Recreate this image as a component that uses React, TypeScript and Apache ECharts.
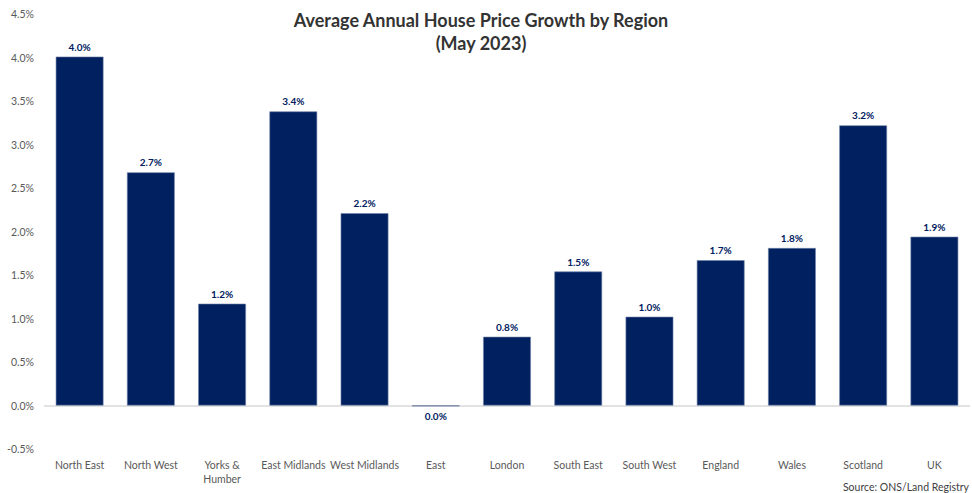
import React, { useEffect, useRef } from "react";
import * as echarts from "echarts";

const categories = [
  "North East", "North West", "Yorks &\nHumber", "East Midlands", "West Midlands", "East",
  "London", "South East", "South West", "England", "Wales", "Scotland", "UK",
];
const growth = [4.01, 2.68, 1.17, 3.38, 2.21, -0.01, 0.79, 1.54, 1.02, 1.67, 1.81, 3.22, 1.94];
const titleLines = ["Average Annual House Price Growth by Region", "(May 2023)"];
const sourceText = "Source: ONS/Land Registry";

const FONT = "Lato, 'Open Sans', sans-serif";
const NAVY = "#002060";

export default function App() {
  const ref = useRef<HTMLDivElement>(null);
  useEffect(() => {
    if (!ref.current) return;
    const chart = echarts.init(ref.current, null, { renderer: "svg" });
    const fmt = (v: number) => (Math.round(v * 10) / 10).toFixed(1) + "%";
    chart.setOption({
      animation: false,
      backgroundColor: "#ffffff",
      textStyle: { fontFamily: FONT },
      grid: { left: 44, right: 2, top: 14, bottom: 44, containLabel: false },
      graphic: [
        {
          type: "text",
          x: 481,
          y: 8,
          style: {
            text: titleLines.join("\n"),
            textAlign: "center",
            textVerticalAlign: "top",
            fontFamily: FONT,
            fontSize: 18,
            fontWeight: "bold",
            lineHeight: 23,
            fill: "#333333",
          },
        },
        {
          type: "text",
          x: 969,
          y: 481,
          style: {
            text: sourceText,
            textAlign: "right",
            textVerticalAlign: "top",
            fontFamily: FONT,
            fontSize: 10.5,
            fill: "#404040",
          },
        },
      ],
      xAxis: {
        type: "category",
        data: categories,
        axisLine: { show: false, onZero: false },
        axisTick: { show: false },
        axisLabel: {
          interval: 0,
          margin: 9,
          color: "#595959",
          fontSize: 10.5,
          lineHeight: 14,
          fontFamily: FONT,
        },
      },
      yAxis: {
        type: "value",
        min: -0.5,
        max: 4.5,
        interval: 0.5,
        axisLine: { show: false },
        axisTick: { show: false },
        splitLine: { show: false },
        axisLabel: {
          margin: 10,
          color: "#595959",
          fontSize: 10.5,
          fontFamily: FONT,
          formatter: (v: number) => v.toFixed(1) + "%",
        },
      },
      series: [
        {
          type: "bar",
          barCategoryGap: "33%",
          data: growth.map((v) => ({
            value: v,
            label: { position: v < 0 ? "bottom" : "top" },
          })),
          itemStyle: { color: NAVY, borderColor: "#6f82a8", borderWidth: 0.6 },
          label: {
            show: true,
            distance: 5,
            color: NAVY,
            fontSize: 10,
            fontWeight: "bold",
            fontFamily: FONT,
            formatter: (p: any) => fmt(p.value),
          },
          markLine: {
            silent: true,
            symbol: "none",
            label: { show: false },
            lineStyle: { color: "#d9d9d9", width: 1.5, type: "solid" },
            data: [{ yAxis: 0 }],
            z: 1,
          },
          z: 2,
        },
      ],
    });
    return () => chart.dispose();
  }, []);
  return (
    <div
      ref={ref}
      style={{ position: "fixed", left: 0, top: 0, width: 972, height: 493 }}
    />
  );
}
